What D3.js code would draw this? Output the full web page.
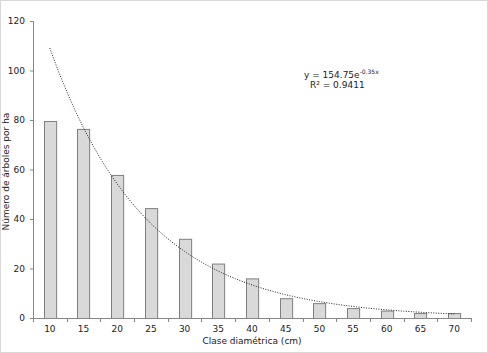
<!DOCTYPE html>
<html>
<head>
<meta charset="utf-8">
<script src="https://cdn.jsdelivr.net/npm/d3@7"></script>
<style>
  body { margin: 0; background: #fff; }
  text { font-family: "DejaVu Sans", Verdana, sans-serif; fill: #222; }
</style>
</head>
<body>
<div id="chart"></div>
<script>
// data
const classes = ["10", "15", "20", "25", "30", "35", "40", "45", "50", "55", "60", "65", "70"]
const trees = [79.6, 76.4, 57.8, 44.4, 32, 22, 16, 8, 6, 4, 3, 2, 2]
const yTicks = [0, 20, 40, 60, 80, 100, 120]
const fitA = 154.75
const fitB = -0.35

const width = 488
const height = 353
const margin = { top: 21, right: 17, bottom: 35, left: 33 }
const boundedWidth = width - margin.left - margin.right
const boundedHeight = height - margin.top - margin.bottom

const svg = d3.select("#chart").append("svg")
  .attr("width", width)
  .attr("height", height)

svg.append("rect")
  .attr("x", 0.5).attr("y", 0.5)
  .attr("width", width - 1).attr("height", height - 1)
  .attr("fill", "#fff")
  .attr("stroke", "#d9d9d9")

const bounds = svg.append("g")
  .attr("transform", `translate(${margin.left},${margin.top})`)

const x = d3.scaleBand()
  .domain(classes)
  .range([0, boundedWidth])
  .paddingInner(0.64)
  .paddingOuter(0.32)

const xStep = d3.scaleLinear()
  .domain([0, classes.length])
  .range([0, boundedWidth])

const y = d3.scaleLinear()
  .domain([0, 120])
  .range([boundedHeight, 0])

// bars
bounds.selectAll(".bar")
  .data(trees)
  .join("rect")
    .attr("class", "bar")
    .attr("x", (d, i) => Math.round(x(classes[i])) + 0.5)
    .attr("y", d => y(d) + 0.5)
    .attr("width", x.bandwidth())
    .attr("height", d => y(0) - y(d))
    .attr("fill", "#d9d9d9")
    .attr("stroke", "#7f7f7f")
    .attr("stroke-width", 1)

// exponential trendline, x = category index (1..n)
const line = d3.line()
  .x(d => xStep(d - 0.5))
  .y(d => y(fitA * Math.exp(fitB * d)))

const pts = d3.range(1, classes.length + 0.001, 0.1)
bounds.append("path")
  .attr("d", line(pts))
  .attr("fill", "none")
  .attr("stroke", "#222")
  .attr("stroke-width", 1)
  .attr("stroke-dasharray", "1,1.5")

// y axis
const yAxis = d3.axisLeft(y).tickValues(yTicks).tickSize(3).tickPadding(5)
const yG = bounds.append("g").call(yAxis)
yG.select(".domain").attr("stroke", "#868686")
yG.selectAll(".tick line").attr("stroke", "#868686")
yG.selectAll(".tick text").style("font-size", "9px").attr("fill", "#222")

// x axis
const xAxis = d3.axisBottom(x).tickSize(0).tickPadding(8)
const xG = bounds.append("g")
  .attr("transform", `translate(0,${boundedHeight})`)
  .call(xAxis)
xG.select(".domain").attr("stroke", "#868686")
xG.selectAll(".tick text").style("font-size", "9px").attr("fill", "#222")
xG.selectAll(".sep")
  .data(d3.range(0, classes.length + 1))
  .join("line")
    .attr("class", "sep")
    .attr("x1", d => Math.round(xStep(d)) + 0.5)
    .attr("x2", d => Math.round(xStep(d)) + 0.5)
    .attr("y1", 0)
    .attr("y2", 4)
    .attr("stroke", "#868686")

// axis labels
svg.append("text")
  .attr("transform", `translate(9,${margin.top + boundedHeight / 2 + 2}) rotate(-90)`)
  .attr("text-anchor", "middle")
  .style("font-size", "9px")
  .text("Número de árboles por ha")

svg.append("text")
  .attr("x", margin.left + boundedWidth / 2)
  .attr("y", 344)
  .attr("text-anchor", "middle")
  .style("font-size", "9px")
  .text("Clase diamétrica (cm)")

// equation
const eq = svg.append("text")
  .attr("x", 304)
  .attr("y", 78)
  .style("font-size", "9px")
eq.append("tspan").text("y = 154.75e")
eq.append("tspan").attr("dy", -4).style("font-size", "6px").text("-0.35x")

svg.append("text")
  .attr("x", 310)
  .attr("y", 88)
  .style("font-size", "9px")
  .text("R² = 0.9411")
</script>
</body>
</html>
